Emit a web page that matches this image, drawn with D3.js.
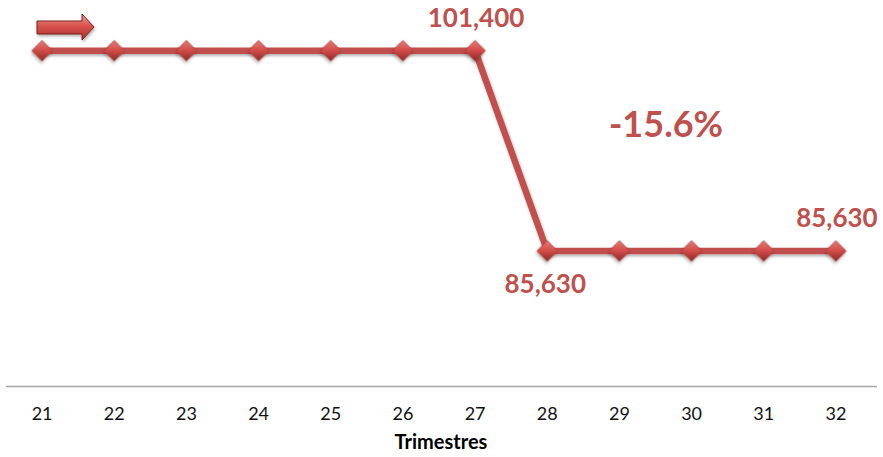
<!DOCTYPE html>
<html><head><meta charset="utf-8">
<script src="https://cdn.jsdelivr.net/npm/d3@7"></script>
<style>body{margin:0;background:#fff}svg{display:block}</style>
</head><body>
<svg id="chart" width="883" height="457"></svg>
<script>
const categories = ["21","22","23","24","25","26","27","28","29","30","31","32"];
const values = [101400,101400,101400,101400,101400,101400,101400,85630,85630,85630,85630,85630];
const pointLabels = [{i:6,text:"101,400",pos:"above"},{i:7,text:"85,630",pos:"below"},{i:11,text:"85,630",pos:"above"}];
const changeLabel = "-15.6%";
const axisTitle = "Trimestres";

const svg = d3.select("#chart");
const red = "#c0504d";
const font = "Lato, 'Open Sans', sans-serif";
const x = d3.scaleBand().domain(categories).range([6,872]);
const y = d3.scaleLinear().domain([75000,105000]).range([386,5]);
const cx = d => x(d) + x.bandwidth()/2;

const defs = svg.append("defs");
const g1 = defs.append("linearGradient").attr("id","dg").attr("x1","0").attr("y1","0").attr("x2","1").attr("y2","1");
g1.append("stop").attr("offset","0").attr("stop-color","#e87a76");
g1.append("stop").attr("offset","0.5").attr("stop-color","#d04b47");
g1.append("stop").attr("offset","1").attr("stop-color","#8e2a28");
const g2 = defs.append("linearGradient").attr("id","ag").attr("x1","0").attr("y1","0").attr("x2","0").attr("y2","1");
g2.append("stop").attr("offset","0").attr("stop-color","#f2a09c");
g2.append("stop").attr("offset","0.45").attr("stop-color","#d9534f");
g2.append("stop").attr("offset","1").attr("stop-color","#a8302c");
const f = defs.append("filter").attr("id","sh").attr("x","-50%").attr("y","-50%").attr("width","200%").attr("height","200%");
f.append("feDropShadow").attr("dx",1).attr("dy",2).attr("stdDeviation",1.5).attr("flood-color","#000").attr("flood-opacity",0.3);

// axis
svg.append("line").attr("x1",6).attr("x2",877).attr("y1",386.5).attr("y2",386.5).attr("stroke","#a6a6a6").attr("stroke-width",1.3);
svg.append("g").selectAll("text").data(categories).join("text")
  .attr("x",d=>cx(d)).attr("y",420).attr("text-anchor","middle")
  .attr("font-family",font).attr("font-size",18).attr("fill","#111").text(d=>d);
svg.append("text").attr("x",441).attr("y",449).attr("text-anchor","middle")
  .attr("font-family",font).attr("font-weight","bold").attr("font-size",20).attr("fill","#000").text(axisTitle);

// line
const data = categories.map((c,i)=>({c,v:values[i]}));
svg.append("path").datum(data).attr("fill","none").attr("stroke",red).attr("stroke-width",6.5)
  .attr("stroke-linejoin","round").attr("filter","url(#sh)")
  .attr("d",d3.line().x(d=>cx(d.c)).y(d=>y(d.v)));

// markers
svg.append("g").selectAll("path").data(data).join("path")
  .attr("d",d3.symbol().type(d3.symbolSquare).size(210))
  .attr("transform",d=>`translate(${cx(d.c)},${y(d.v)}) rotate(45)`)
  .attr("fill","url(#dg)").attr("stroke","#b03e3a").attr("stroke-width",0.6).attr("filter","url(#sh)");

// labels
svg.append("g").selectAll("text").data(pointLabels).join("text")
  .attr("x",d=>cx(categories[d.i]) + (d.pos==="below"?-2:1))
  .attr("y",d=>y(values[d.i]) + (d.pos==="above"?-24:42))
  .attr("text-anchor","middle").attr("font-family",font).attr("font-weight","bold")
  .attr("font-size",26).attr("fill",red).text(d=>d.text);
svg.append("text").attr("x",666).attr("y",137).attr("text-anchor","middle")
  .attr("font-family",font).attr("font-weight","bold").attr("font-size",36).attr("fill",red).text(changeLabel);

// arrow
svg.append("path").attr("d","M37,21 L82,21 L82,14 L94,27 L82,40 L82,34 L37,34 Z")
  .attr("fill","url(#ag)").attr("stroke","#7a1f1d").attr("stroke-width",1).attr("filter","url(#sh)");
</script>
</body></html>
